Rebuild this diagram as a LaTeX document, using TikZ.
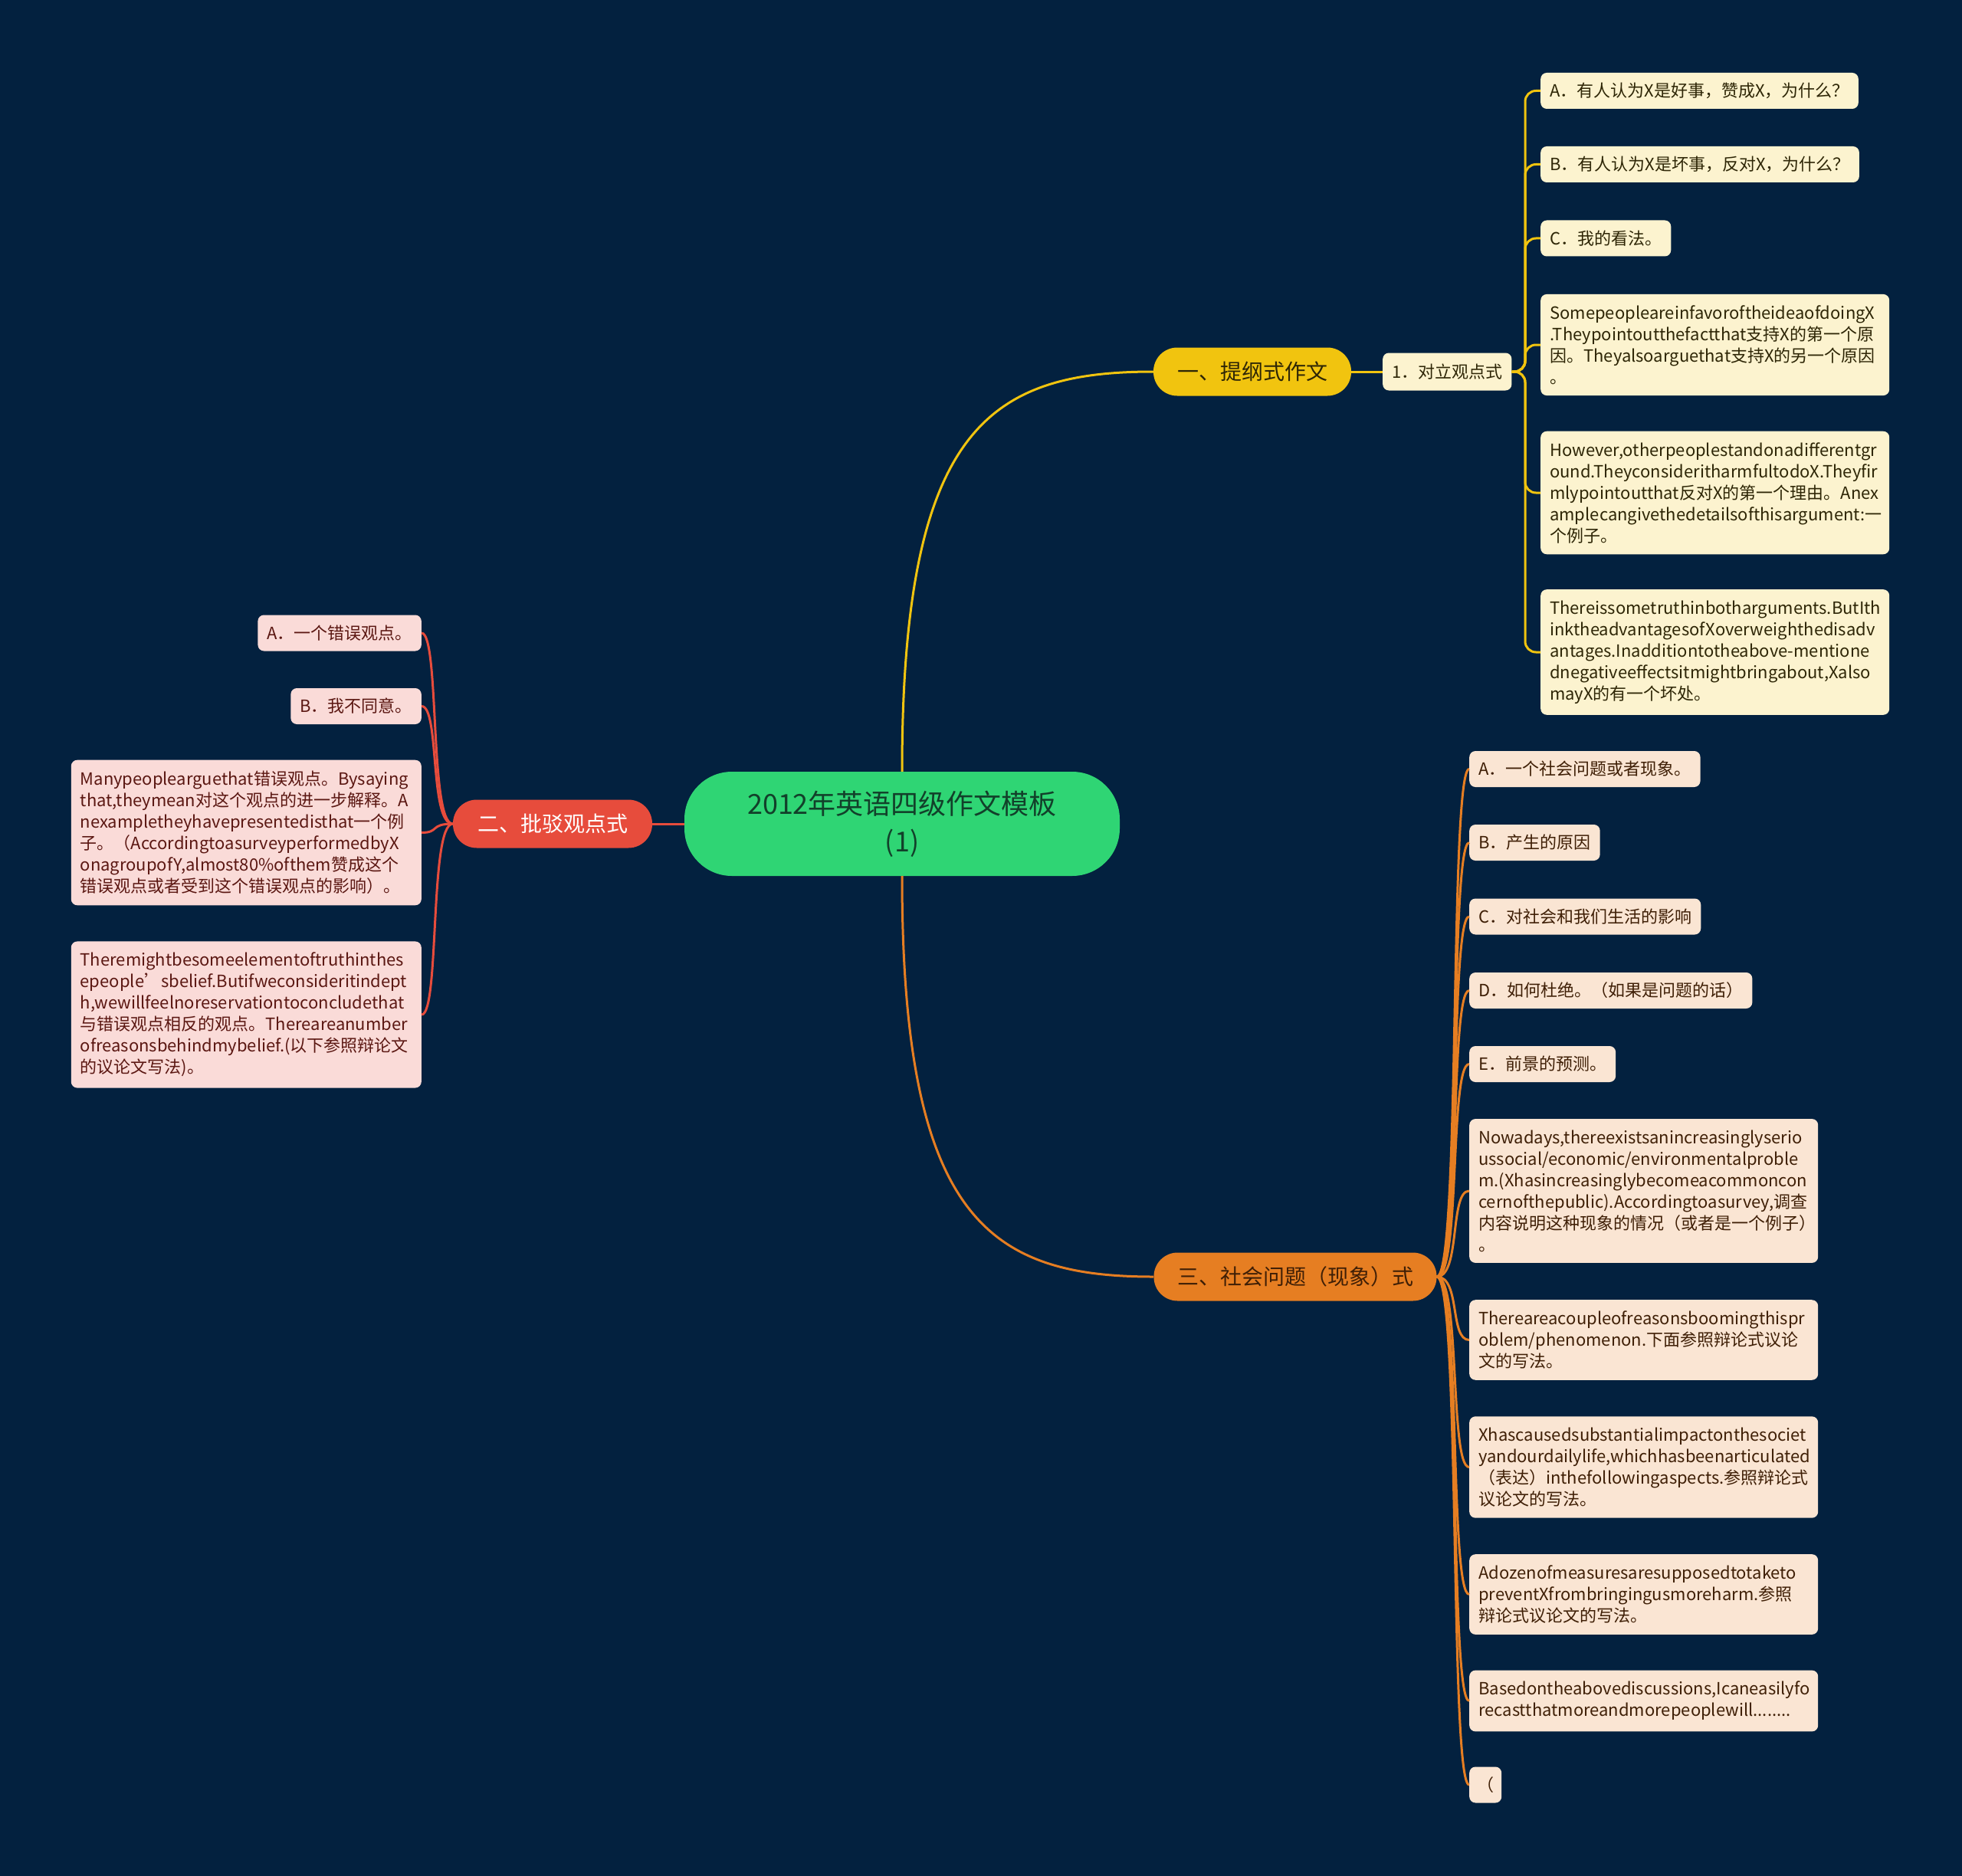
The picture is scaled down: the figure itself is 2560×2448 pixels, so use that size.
\documentclass[tikz,border=0pt]{standalone}
\usepackage{fontspec}
\setmainfont{Noto Sans CJK SC}
\usetikzlibrary{calc}
\definecolor{bg}{HTML}{03213F}
\definecolor{ycol}{HTML}{F1C40F}
\definecolor{ycream}{HTML}{FCF3CF}
\definecolor{ytext}{HTML}{2E2606}
\definecolor{rcol}{HTML}{E74C3C}
\definecolor{pinkf}{HTML}{FADBD8}
\definecolor{rtext}{HTML}{5B1712}
\definecolor{ocol}{HTML}{E67E22}
\definecolor{ocream}{HTML}{FAE5D3}
\definecolor{otext}{HTML}{3F1F06}
\definecolor{gcol}{HTML}{2FD574}
\definecolor{gtext}{HTML}{12402A}
\begin{document}
\begin{tikzpicture}[x=1pt,y=-1pt,
  leaf/.style={rounded corners=8pt, inner xsep=12pt, inner ysep=9pt, font=\fontsize{22}{28}\selectfont, align=left, minimum height=47pt},
  yleaf/.style={leaf, fill=ycream, text=ytext},
  rleaf/.style={leaf, fill=pinkf, text=rtext},
  oleaf/.style={leaf, fill=ocream, text=otext},
  tw/.style={text width=#1, inner ysep=14.5pt},
  branch/.style={rounded corners=31pt, minimum height=63pt, inner xsep=26pt, font=\fontsize{28}{34}\selectfont},
  yline/.style={draw=ycol, line width=3pt},
  rline/.style={draw=rcol, line width=3pt},
  oline/.style={draw=ocol, line width=3pt}]
\fill[bg] (0,0) rectangle (2560,2448);
\useasboundingbox (0,0) rectangle (2560,2448);

% centre
\node (c) [fill=gcol, text=gtext, rounded corners=62pt, minimum width=568pt, minimum height=136pt, align=center, font=\fontsize{36}{49}\selectfont] at (1177,1075) {2012年英语四级作文模板\\(1)};

% branch 1
\node (b1) [branch, fill=ycol, text=ytext, minimum width=258pt] at (1634,485) {一、提纲式作文};
\node (s1) [yleaf, anchor=west, minimum height=49pt] at (1804,485) {1．对立观点式};
\node (y1) [yleaf, anchor=west] at (2010,118.5) {A．有人认为X是好事，赞成X，为什么？};
\node (y2) [yleaf, anchor=west] at (2010,214.5) {B．有人认为X是坏事，反对X，为什么？};
\node (y3) [yleaf, anchor=west] at (2010,311) {C．我的看法。};
\node (y4) [yleaf, anchor=west, tw=431pt] at (2010,450) {SomepeopleareinfavoroftheideaofdoingX\\.Theypointoutthefactthat支持X的第一个原\\因。Theyalsoarguethat支持X的另一个原因\\。};
\node (y5) [yleaf, anchor=west, tw=431pt] at (2010,643) {However,otherpeoplestandonadifferentgr\\ound.TheyconsideritharmfultodoX.Theyfir\\mlypointoutthat反对X的第一个理由。Anex\\amplecangivethedetailsofthisargument:一\\个例子。};
\node (y6) [yleaf, anchor=west, tw=431pt] at (2010,851) {Thereissometruthinbotharguments.ButIth\\inktheadvantagesofXoverweighthedisadv\\antages.Inadditiontotheabove-mentione\\dnegativeeffectsitmightbringabout,Xalso\\mayX的有一个坏处。};

% branch 2
\node (b2) [branch, fill=rcol, text=white, minimum width=260pt] at (721,1075) {二、批驳观点式};
\node (r1) [rleaf, anchor=east] at (550,826) {A．一个错误观点。};
\node (r2) [rleaf, anchor=east] at (550,921.5) {B．我不同意。};
\node (r3) [rleaf, anchor=east, tw=433pt] at (550,1086.5) {Manypeoplearguethat错误观点。Bysaying\\that,theymean对这个观点的进一步解释。A\\nexampletheyhavepresentedisthat一个例\\子。（AccordingtoasurveyperformedbyX\\onagroupofY,almost80\%ofthem赞成这个\\错误观点或者受到这个错误观点的影响）。};
\node (r4) [rleaf, anchor=east, tw=433pt] at (550,1324) {Theremightbesomeelementoftruthinthes\\epeople’sbelief.Butifweconsideritindept\\h,wewillfeelnoreservationtoconcludethat\\与错误观点相反的观点。Thereareanumber\\ofreasonsbehindmybelief.(以下参照辩论文\\的议论文写法)。};

% branch 3
\node (b3) [branch, fill=ocol, text=otext, minimum width=369pt] at (1690,1666) {三、社会问题（现象）式};
\node (o1) [oleaf, anchor=west] at (1917,1003.5) {A．一个社会问题或者现象。};
\node (o2) [oleaf, anchor=west] at (1917,1099.5) {B．产生的原因};
\node (o3) [oleaf, anchor=west] at (1917,1196) {C．对社会和我们生活的影响};
\node (o4) [oleaf, anchor=west] at (1917,1292.5) {D．如何杜绝。（如果是问题的话）};
\node (o5) [oleaf, anchor=west] at (1917,1388.5) {E．前景的预测。};
\node (o6) [oleaf, anchor=west, tw=431pt] at (1917,1554) {Nowadays,thereexistsanincreasinglyserio\\ussocial/economic/environmentalproble\\m.(Xhasincreasinglybecomeacommoncon\\cernofthepublic).Accordingtoasurvey,调查\\内容说明这种现象的情况（或者是一个例子）\\。};
\node (o7) [oleaf, anchor=west, tw=431pt] at (1917,1748.5) {Thereareacoupleofreasonsboomingthispr\\oblem/phenomenon.下面参照辩论式议论\\文的写法。};
\node (o8) [oleaf, anchor=west, tw=431pt] at (1917,1914.5) {Xhascausedsubstantialimpactonthesociet\\yandourdailylife,whichhasbeenarticulated\\（表达）inthefollowingaspects.参照辩论式\\议论文的写法。};
\node (o9) [oleaf, anchor=west, tw=431pt] at (1917,2080.5) {Adozenofmeasuresaresupposedtotaketo\\preventXfrombringingusmoreharm.参照\\辩论式议论文的写法。};
\node (o10) [oleaf, anchor=west, tw=431pt] at (1917,2219.5) {Basedontheabovediscussions,Icaneasilyfo\\recastthatmoreandmorepeoplewill........};
\node (o11) [oleaf, anchor=west, inner xsep=6pt, minimum width=42pt] at (1917,2329) {（};

% connectors
\draw[yline] (c.north) .. controls (1177,560) and (1290,485) .. (b1.west);
\draw[yline] (b1.east) -- (s1.west);
\coordinate (yj) at (1990,485);
\foreach \n in {y1,y2,y3,y4,y5,y6}
  \draw[yline, rounded corners=14pt] (s1.east) -- (yj) |- (\n.west);

\draw[rline] (c.west) -- (b2.east);
\foreach \n in {r1,r2,r3,r4}
  \draw[rline] (b2.west) .. controls (560,1075) and ($(\n.east)+(24,0)$) .. (\n.east);

\draw[oline] (c.south) .. controls (1177,1590) and (1290,1666) .. (b3.west);
\foreach \n in {o1,o2,o3,o4,o5,o6,o7,o8,o9,o10,o11}
  \draw[oline] (b3.east) .. controls (1906,1666) and ($(\n.west)+(-26,0)$) .. (\n.west);
\end{tikzpicture}
\end{document}
